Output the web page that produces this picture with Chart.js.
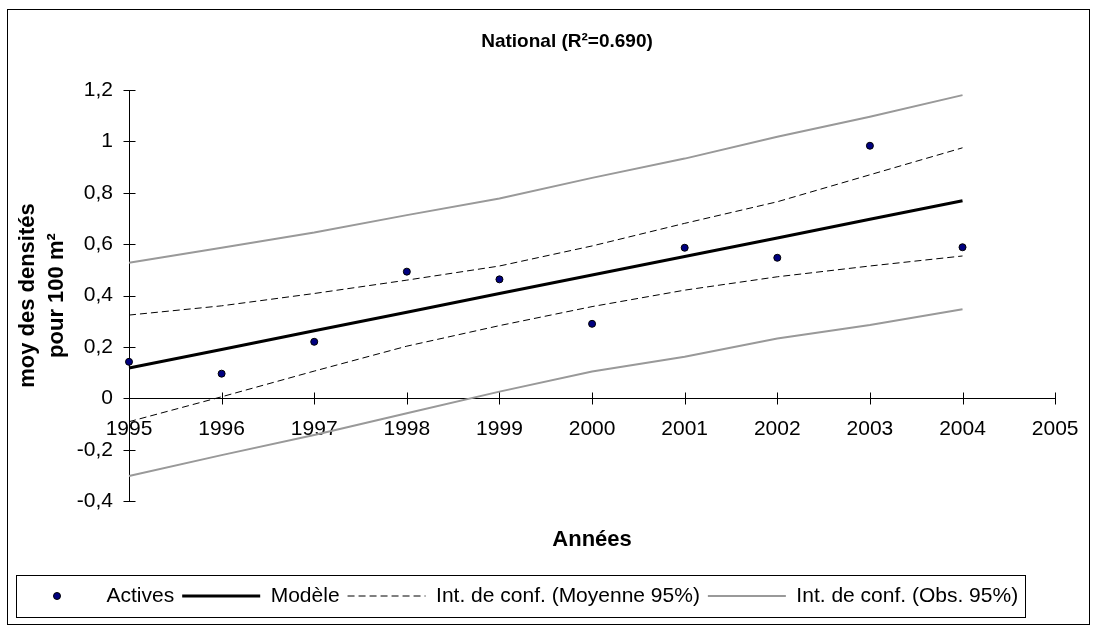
<!DOCTYPE html>
<html>
<head>
<meta charset="utf-8">
<title>National</title>
<script src="https://cdn.jsdelivr.net/npm/chart.js@4.4.1/dist/chart.umd.min.js"></script>
<style>
  html, body { margin: 0; padding: 0; background: #fff; }
</style>
</head>
<body>
<canvas id="chart" width="1097" height="632"></canvas>
<script>
const titre = "National (R²=0.690)";
const annees = [1995, 1996, 1997, 1998, 1999, 2000, 2001, 2002, 2003, 2004];
const actives = [0.142, 0.096, 0.220, 0.493, 0.463, 0.290, 0.586, 0.547, 0.983, 0.588];
const modele = [0.118, 0.190, 0.263, 0.335, 0.408, 0.480, 0.552, 0.624, 0.697, 0.769];
const moyHaut = [0.324, 0.360, 0.408, 0.460, 0.515, 0.593, 0.681, 0.765, 0.870, 0.975];
const moyBas = [-0.091, 0.006, 0.106, 0.203, 0.283, 0.357, 0.421, 0.473, 0.515, 0.554];
const obsHaut = [0.528, 0.586, 0.645, 0.713, 0.778, 0.858, 0.933, 1.018, 1.096, 1.180];
const obsBas = [-0.302, -0.221, -0.143, -0.058, 0.026, 0.104, 0.162, 0.233, 0.285, 0.347];
const yTicks = { min: -0.4, max: 1.2, step: 0.2 };
const xTicks = { min: 1995, max: 2005, step: 1 };

const police = "'Liberation Sans', Arial, sans-serif";
Chart.defaults.font.family = police;
Chart.defaults.color = "#000";

const points = (vals) => vals.map((v, i) => ({ x: annees[i], y: v }));

// little navy dot used as the legend marker for the observations
const dot = document.createElement("canvas");
dot.width = 10;
dot.height = 10;
const dctx = dot.getContext("2d");
dctx.beginPath();
dctx.arc(5, 5, 3.5, 0, Math.PI * 2);
dctx.fillStyle = "#000080";
dctx.fill();
dctx.lineWidth = 1;
dctx.strokeStyle = "#000";
dctx.stroke();

function ligne(label, vals, color, width, dash) {
  return {
    label,
    data: points(vals),
    showLine: true,
    borderColor: color,
    backgroundColor: color,
    borderWidth: width,
    borderDash: dash,
    pointRadius: 0,
    tension: 0,
    clip: 4
  };
}

const decor = {
  id: "decor",
  beforeDraw(chart) {
    const ctx = chart.ctx;
    ctx.save();
    ctx.fillStyle = "#fff";
    ctx.fillRect(0, 0, chart.width, chart.height);
    ctx.strokeStyle = "#000";
    ctx.lineWidth = 1;
    ctx.strokeRect(7.5, 9.5, 1082, 615);
    ctx.restore();
  },
  afterDraw(chart) {
    const { ctx } = chart;
    const x = chart.scales.x;
    const y = chart.scales.y;
    ctx.save();

    ctx.font = "bold 19px " + police;
    ctx.fillStyle = "#000";
    ctx.textAlign = "center";
    ctx.textBaseline = "middle";
    ctx.fillText(titre, 567, 42);

    // tick marks crossing both axes
    ctx.strokeStyle = "#000";
    ctx.lineWidth = 1;
    ctx.beginPath();
    const y0 = Math.round(y.getPixelForValue(0)) + 0.5;
    x.ticks.forEach(t => {
      const px = Math.round(x.getPixelForValue(t.value)) + 0.5;
      ctx.moveTo(px, y0 - 6);
      ctx.lineTo(px, y0 + 6);
    });
    const x0 = Math.round(x.getPixelForValue(x.min)) + 0.5;
    y.ticks.forEach(t => {
      const py = Math.round(y.getPixelForValue(t.value)) + 0.5;
      ctx.moveTo(x0 - 6, py);
      ctx.lineTo(x0 + 6, py);
    });
    ctx.stroke();

    // frame around the legend entries
    const hb = chart.legend.legendHitBoxes;
    if (hb.length) {
      const left = Math.round(hb[0].left) - 2;
      const last = hb[hb.length - 1];
      const right = Math.round(last.left + last.width) + 7;
      const top = Math.round(hb[0].top - 10.5);
      const bottom = Math.round(hb[0].top + hb[0].height + 10.5);
      ctx.lineWidth = 1;
      ctx.strokeRect(left + 0.5, top + 0.5, right - left, bottom - top);
    }
    ctx.restore();
  }
};

new Chart(document.getElementById("chart"), {
  type: "scatter",
  data: {
    datasets: [
      {
        label: "Actives",
        data: points(actives),
        backgroundColor: "#000080",
        borderColor: "#000",
        borderWidth: 1,
        pointRadius: 3.5,
        clip: 8
      },
      ligne("Modèle", modele, "#000", 3, []),
      ligne("Int. de conf. (Moyenne 95%)", moyHaut, "#000", 1, [7, 4]),
      ligne("Int. de conf. (Moyenne 95%)", moyBas, "#000", 1, [7, 4]),
      ligne("Int. de conf. (Obs. 95%)", obsHaut, "#999", 2, []),
      ligne("Int. de conf. (Obs. 95%)", obsBas, "#999", 2, [])
    ]
  },
  options: {
    responsive: false,
    animation: false,
    layout: { padding: { left: 10, right: 35, top: 90, bottom: 15.5 } },
    scales: {
      x: {
        type: "linear",
        position: { y: 0 },
        min: xTicks.min,
        max: xTicks.max,
        grid: { display: false, drawTicks: false },
        border: { display: true, color: "#000", width: 1 },
        ticks: {
          stepSize: xTicks.step,
          padding: 18.5,
          font: { size: 21 },
          color: "#000",
          callback: (v) => String(v)
        }
      },
      y: {
        min: yTicks.min,
        max: yTicks.max,
        grid: { display: false, drawTicks: false },
        border: { display: true, color: "#000", width: 1 },
        ticks: {
          stepSize: yTicks.step,
          padding: 16,
          font: { size: 21 },
          color: "#000",
          callback: (v) => String(Number(v.toFixed(1))).replace(".", ",")
        },
        title: {
          display: true,
          text: ["moy des densités", "pour 100 m²"],
          font: { size: 22, weight: "bold", lineHeight: 1.32 },
          color: "#000",
          padding: { top: 3.5, bottom: 0 }
        },
        afterFit: (scale) => { scale.width = 119; }
      }
    },
    plugins: {
      tooltip: { enabled: false },
      subtitle: {
        display: true,
        position: "bottom",
        fullSize: false,
        weight: 500,
        text: "Années",
        color: "#000",
        font: { size: 22, weight: "bold" },
        padding: { top: 26, bottom: 24 }
      },
      legend: {
        position: "bottom",
        align: "start",
        labels: {
          usePointStyle: true,
          pointStyleWidth: 78,
          padding: 8,
          color: "#000",
          font: { size: 21 },
          generateLabels: (chart) => {
            const seen = [];
            const items = [];
            chart.data.datasets.forEach((ds, i) => {
              if (seen.includes(ds.label)) return;
              seen.push(ds.label);
              items.push({
                text: ds.label,
                datasetIndex: i,
                fontColor: "#000",
                fillStyle: ds.backgroundColor,
                strokeStyle: ds.borderColor,
                lineWidth: ds.showLine ? ds.borderWidth : 0,
                lineDash: ds.borderDash || [],
                pointStyle: ds.showLine ? "line" : dot
              });
            });
            return items;
          }
        }
      }
    }
  },
  plugins: [decor]
});
</script>
</body>
</html>
